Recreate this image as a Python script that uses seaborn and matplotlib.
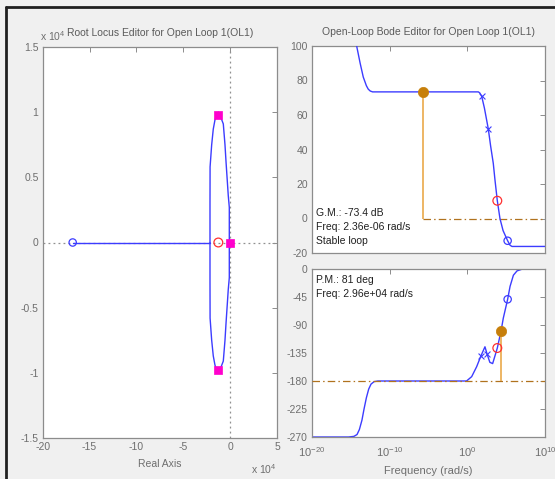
import numpy as np
import pandas as pd
import matplotlib
matplotlib.use("Agg")
import matplotlib.pyplot as plt
from matplotlib.lines import Line2D
import seaborn as sns

# ---------------- data ----------------
# Root locus (units of 1e4)
rl_upper_re = [-2.15, -2.15, -2.14, -1.97, -1.80, -1.62, -1.40, -1.26, -1.05, -0.73, -0.55, -0.44, -0.20, -0.09, -0.09]
rl_upper_im = [0.00, 0.30, 0.58, 0.75, 0.87, 0.94, 0.99, 1.00, 0.97, 0.91, 0.75, 0.62, 0.36, 0.27, 0.00]
rl_real_branch_re = [-16.8, -2.15]
rl_real_branch_im = [0.0, 0.0]
rl_ol_zero_re = [-16.8]
rl_ol_zero_im = [0.0]
rl_comp_zero_re = [-1.26]
rl_comp_zero_im = [0.0]
rl_cl_poles_re = [-1.26, -1.26, 0.0]
rl_cl_poles_im = [0.98, -0.98, 0.0]

# Bode magnitude (log10 of rad/s, dB)
mag_logw = [-14.6, -14.25, -13.8, -13.4, -13.0, -12.76, -12.5, -12.2, 1.42, 1.6, 1.85, 2.2, 2.7, 3.0, 3.34, 3.56, 3.86, 4.2, 4.6, 5.19, 5.5, 5.75, 10.0]
mag_db = [110, 100, 90, 82, 77, 75, 73.9, 73.4, 73.4, 72.8, 70.8, 64, 51.9, 42, 32, 22.3, 10.3, 0, -7, -12.9, -15.5, -16.2, -16.2]
mag_x_logw = [1.85, 2.7]
mag_x_db = [70.8, 51.9]
mag_red_logw = [3.86]
mag_red_db = [10.3]
mag_blue_logw = [5.19]
mag_blue_db = [-12.9]
gm_logw = -5.75
gm_db = 73.4

# Bode phase (log10 of rad/s, deg)
ph_logw = [-20, -15.3, -14.6, -14.2, -13.9, -13.57, -13.3, -13.0, -12.7, -12.4, -12.0, -11.5, -0.1, 0.56, 1.2, 1.74, 2.27, 2.55, 2.9, 3.26, 3.55, 3.86, 4.35, 4.63, 5.19, 5.5, 5.93, 6.4, 7.0, 7.4, 10]
ph_deg = [-270, -270, -269, -266, -258, -243, -225, -207, -193, -185, -181, -180, -180, -173, -157, -140, -125, -137, -150, -152, -140, -127, -99, -79, -48.7, -28, -10, -3, -0.5, 0, 0]
ph_x_logw = [1.74, 2.55]
ph_x_deg = [-140, -137]
ph_red_logw = [3.86]
ph_red_deg = [-127]
ph_blue_logw = [5.19]
ph_blue_deg = [-48.7]
pm_logw = 4.35
pm_deg = -99

rl_xticks = [-20, -15, -10, -5, 0, 5]
rl_yticks = [-1.5, -1, -0.5, 0, 0.5, 1, 1.5]
mag_yticks = [-20, 0, 20, 40, 60, 80, 100]
ph_yticks = [-270, -225, -180, -135, -90, -45, 0]
freq_ticks_exp = [-20, -10, 0, 10]

title_rl = "Root Locus Editor for Open Loop 1(OL1)"
title_bode = "Open-Loop Bode Editor for Open Loop 1(OL1)"
gm_lines = ["G.M.: -73.4 dB", "Freq: 2.36e-06 rad/s", "Stable loop"]
pm_lines = ["P.M.: 81 deg", "Freq: 2.96e+04 rad/s"]

# ---------------- style ----------------
sns.set_theme(style="white")
plt.rcParams["font.family"] = ["Liberation Sans", "DejaVu Sans"]
plt.rcParams["mathtext.fontset"] = "custom"
plt.rcParams["mathtext.rm"] = "Liberation Sans"
plt.rcParams["mathtext.it"] = "Liberation Sans:italic"
plt.rcParams["axes.unicode_minus"] = False

W, H = 555, 479
FS = 7.5
TICKC = "#6e6e6e"
SPINEC = "#8c8c8c"
LBLUE = "#3c3cff"
ORANGE_M = "#c77f0a"
ORANGE_L = "#e8a23a"
DASHC = "#b0721e"

fig = plt.figure(figsize=(W / 100, H / 100), dpi=100, facecolor="#f0f0f0")

def fx(px):
    return px / W

def fy(py):
    return 1 - py / H

def style_axes(ax):
    ax.set_facecolor("white")
    for s in ax.spines.values():
        s.set_color(SPINEC)
        s.set_linewidth(0.9)
    ax.tick_params(direction="in", top=True, right=True, length=3.5, width=0.7,
                   color=SPINEC, labelsize=FS, labelcolor=TICKC, pad=3)
    ax.minorticks_off()

ax_rl = fig.add_axes([fx(42.7), fy(438), fx(277) - fx(42.7), fy(47) - fy(438)])
ax_mag = fig.add_axes([fx(312), fy(253), fx(545) - fx(312), fy(46) - fy(253)])
ax_ph = fig.add_axes([fx(312), fy(437), fx(545) - fx(312), fy(269) - fy(437)])

# ---------------- root locus ----------------
ax_rl.axvline(0, color="#909090", ls=(0, (1.5, 2.5)), lw=0.9, zorder=1)
ax_rl.axhline(0, color="#909090", ls=(0, (1.5, 2.5)), lw=0.9, zorder=1)
up = pd.DataFrame({"re": rl_upper_re, "im": rl_upper_im})
lo = pd.DataFrame({"re": rl_upper_re, "im": [-v for v in rl_upper_im]})
for df in (up, lo):
    sns.lineplot(data=df, x="re", y="im", sort=False, estimator=None, ax=ax_rl,
                 color=LBLUE, lw=1.0, zorder=2)
sns.lineplot(x=rl_real_branch_re, y=rl_real_branch_im, sort=False, estimator=None,
             ax=ax_rl, color=LBLUE, lw=1.0, zorder=2)
sns.scatterplot(x=rl_ol_zero_re, y=rl_ol_zero_im, marker="o", s=28, facecolor="none",
                edgecolor=LBLUE, linewidth=0.9, ax=ax_rl, zorder=3)
sns.scatterplot(x=rl_comp_zero_re, y=rl_comp_zero_im, marker="o", s=40, facecolor="none",
                edgecolor="#ff3030", linewidth=0.9, ax=ax_rl, zorder=3)
sns.scatterplot(x=rl_cl_poles_re, y=rl_cl_poles_im, marker="s", s=30, color="#ff00cc",
                edgecolor="#ff00cc", linewidth=0.5, ax=ax_rl, zorder=4)
ax_rl.set_xlim(-20, 5)
ax_rl.set_ylim(-1.5, 1.5)
ax_rl.set_xticks(rl_xticks)
ax_rl.set_xticklabels(["%g" % v for v in rl_xticks])
ax_rl.set_yticks(rl_yticks)
ax_rl.set_yticklabels(["%g" % v for v in rl_yticks])
style_axes(ax_rl)
ax_rl.set_xlabel("Real Axis", fontsize=FS, color=TICKC, labelpad=5)
ax_rl.set_ylabel("")
ax_rl.set_title(title_rl, fontsize=FS, color="#5a5a5a", pad=8)
fig.text(fx(40), fy(36), r"x $\mathregular{10^{4}}$", fontsize=FS, color=TICKC, ha="left", va="center")
fig.text(fx(251), fy(469), r"x $\mathregular{10^{4}}$", fontsize=FS, color=TICKC, ha="left", va="center")

# ---------------- bode magnitude ----------------
ax_mag.set_xscale("log")
ax_ph.set_xscale("log")
mag_w = [10.0 ** v for v in mag_logw]
ax_mag.hlines(0, 10.0 ** gm_logw, 1e10, colors=DASHC, linestyles=(0, (6, 2.5, 1.2, 2.5)), lw=0.9, zorder=1)
ax_mag.vlines(10.0 ** gm_logw, 0, gm_db, colors=ORANGE_L, lw=1.1, zorder=2)
sns.lineplot(x=mag_w, y=mag_db, sort=False, estimator=None, ax=ax_mag, color=LBLUE, lw=1.0, zorder=3)
sns.scatterplot(x=[10.0 ** v for v in mag_x_logw], y=mag_x_db, marker="x", s=18, color=LBLUE,
                linewidth=0.8, ax=ax_mag, zorder=4)
sns.scatterplot(x=[10.0 ** v for v in mag_red_logw], y=mag_red_db, marker="o", s=40, facecolor="none",
                edgecolor="#ff3030", linewidth=0.9, ax=ax_mag, zorder=4)
sns.scatterplot(x=[10.0 ** v for v in mag_blue_logw], y=mag_blue_db, marker="o", s=28, facecolor="none",
                edgecolor=LBLUE, linewidth=0.9, ax=ax_mag, zorder=4)
sns.scatterplot(x=[10.0 ** gm_logw], y=[gm_db], marker="o", s=55, color=ORANGE_M,
                edgecolor=ORANGE_M, linewidth=0.5, ax=ax_mag, zorder=5)
ax_mag.set_xlim(1e-20, 1e10)
ax_mag.set_ylim(-20, 100)
ax_mag.set_yticks(mag_yticks)
ax_mag.set_yticklabels(["%g" % v for v in mag_yticks])
ax_mag.set_xticks([10.0 ** e for e in freq_ticks_exp])
ax_mag.set_xticklabels([])
style_axes(ax_mag)
ax_mag.set_xlabel("")
ax_mag.set_title(title_bode, fontsize=FS, color="#5a5a5a", pad=8)
for i, t in enumerate(gm_lines):
    fig.text(fx(316), fy(212.5 + 14 * i), t, fontsize=FS, color="#202020", ha="left", va="center")

# ---------------- bode phase ----------------
ph_w = [10.0 ** v for v in ph_logw]
sns.lineplot(x=ph_w, y=ph_deg, sort=False, estimator=None, ax=ax_ph, color=LBLUE, lw=1.0, zorder=2)
ax_ph.hlines(-180, 1e-20, 1e10, colors=DASHC, linestyles=(0, (6, 2.5, 1.2, 2.5)), lw=0.9, zorder=3)
ax_ph.vlines(10.0 ** pm_logw, -180, pm_deg, colors=ORANGE_L, lw=1.1, zorder=3)
sns.scatterplot(x=[10.0 ** v for v in ph_x_logw], y=ph_x_deg, marker="x", s=18, color=LBLUE,
                linewidth=0.8, ax=ax_ph, zorder=4)
sns.scatterplot(x=[10.0 ** v for v in ph_red_logw], y=ph_red_deg, marker="o", s=40, facecolor="none",
                edgecolor="#ff3030", linewidth=0.9, ax=ax_ph, zorder=4)
sns.scatterplot(x=[10.0 ** v for v in ph_blue_logw], y=ph_blue_deg, marker="o", s=28, facecolor="none",
                edgecolor=LBLUE, linewidth=0.9, ax=ax_ph, zorder=4)
sns.scatterplot(x=[10.0 ** pm_logw], y=[pm_deg], marker="o", s=55, color=ORANGE_M,
                edgecolor=ORANGE_M, linewidth=0.5, ax=ax_ph, zorder=5)
ax_ph.set_xlim(1e-20, 1e10)
ax_ph.set_ylim(-270, 0)
ax_ph.set_yticks(ph_yticks)
ax_ph.set_yticklabels(["%g" % v for v in ph_yticks])
ax_ph.set_xticks([10.0 ** e for e in freq_ticks_exp])
ax_ph.set_xticklabels([r"$\mathregular{10^{%d}}$" % e for e in freq_ticks_exp])
style_axes(ax_ph)
ax_ph.tick_params(axis="x", pad=6, labelsize=8)
ax_ph.set_xlabel("Frequency (rad/s)", fontsize=FS + 0.5, color=TICKC, labelpad=5)
for i, t in enumerate(pm_lines):
    fig.text(fx(316), fy(280 + 14.3 * i), t, fontsize=FS, color="#202020", ha="left", va="center")

# ---------------- window frame ----------------
fig.add_artist(Line2D([fx(6), fx(6)], [fy(7), 0], color="#202020", lw=2.0))
fig.add_artist(Line2D([fx(6), 1], [fy(7), fy(7)], color="#202020", lw=2.0))

fig.savefig("out.png", dpi=100, facecolor=fig.get_facecolor())
